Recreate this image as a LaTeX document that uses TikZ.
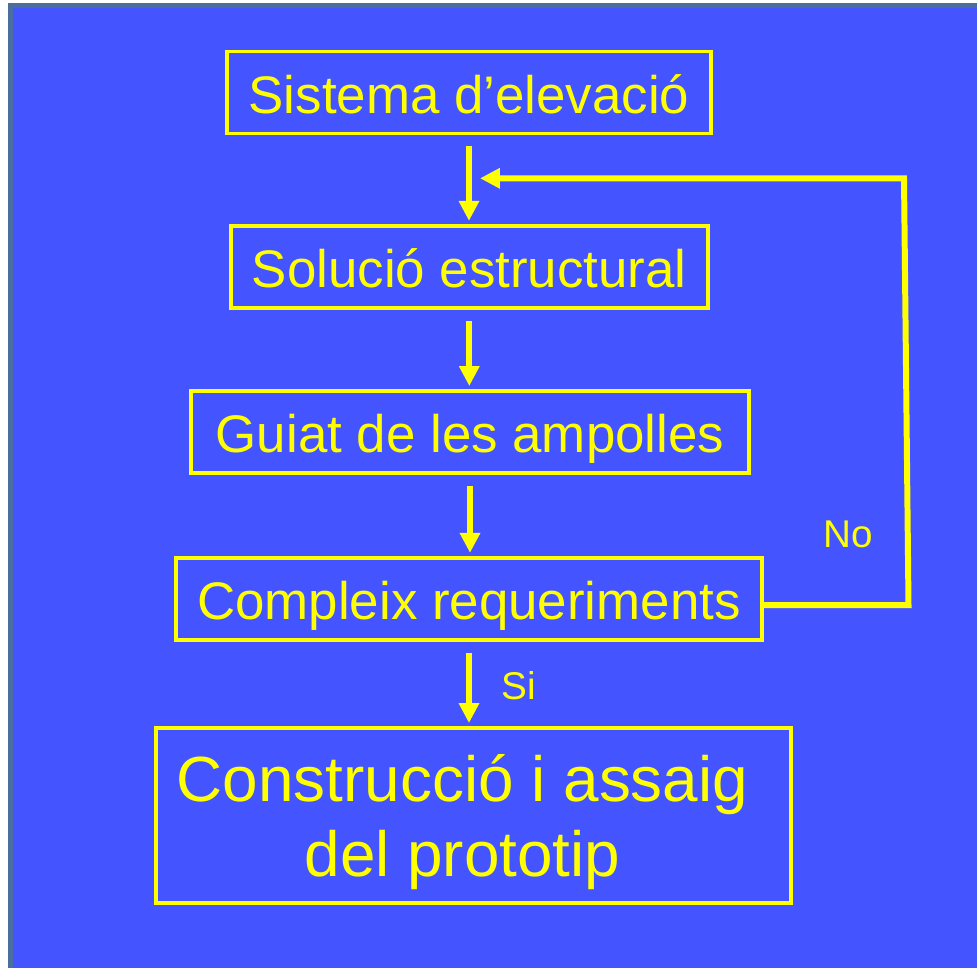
\documentclass[tikz,border=0pt]{standalone}
\usepackage{fontspec}
\setmainfont{Liberation Sans}
\usetikzlibrary{arrows.meta}
\definecolor{fons}{RGB}{68,85,255}
\definecolor{vora}{RGB}{74,110,158}
\definecolor{groc}{RGB}{255,255,0}

\begin{document}
\begin{tikzpicture}[x= .025cm, y= .025cm,
   caixa/.style={draw=groc,line width=2.8pt,text=groc,inner sep=0pt,minimum height=2.05cm,text height=29.8pt,text depth=0pt,font=\fontsize{37.6}{45}\selectfont},
   fletxa/.style={draw=groc,line width=4.25pt,line join=miter,-{Triangle[width=13.8pt,length=14.2pt]}},
   baixa/.style={fletxa,shorten <=7.8pt,shorten >=2.1pt},
   etiq/.style={text=groc,font=\fontsize{27.5}{33}\selectfont}]
\useasboundingbox (0,0) rectangle (977,-968);
\fill[vora] (8,-3) rectangle (977,-968);
\fill[fons] (13,-8) rectangle (977,-968);
%
      \node [caixa,minimum width=12.1cm] at (469,-92.5) (sist) {Sistema d’elevació};
       \node [caixa,minimum width=11.91cm] at (469.3,-266.8) (sol) {Solució estructural};
        \node [caixa,minimum width=13.95cm] at (470,-432) (guiat) {Guiat de les ampolles};
         \node [caixa,minimum width=14.65cm] at (469,-598.8) (compl) {Compleix requeriments};
          \node [caixa,minimum width=15.875cm,minimum height=4.375cm,text height=,text depth=,align=center,font=\fontsize{45.4}{53}\selectfont] at (473.5,-815.5) (constr) {\rule{0pt}{49.4pt}Construcció i assaig\hspace*{15.6pt}\\del prototip\hspace*{15.6pt}\rule[-16pt]{0pt}{0pt}};
           \node [etiq] at (848,-534) (no) {No};
            \node [etiq] at (519,-686) (si) {Si};
%
\coordinate (nb) at (908.5,-605);
\coordinate (nt) at (904,-178.3);
\coordinate (torna) at (480,-178.3);
%
\draw[baixa] (sist.south) -- (sist.south |- sol.north);
\draw[baixa] (sol.south) -- (sol.south |- guiat.north);
\draw[baixa] (guiat.south) -- (guiat.south |- compl.north);
\draw[baixa] (compl.south) -- (compl.south |- constr.north);
\draw[fletxa] (compl.east |- nb) -- (nb) -- (nt) -- (torna);

\end{tikzpicture}
\end{document}
